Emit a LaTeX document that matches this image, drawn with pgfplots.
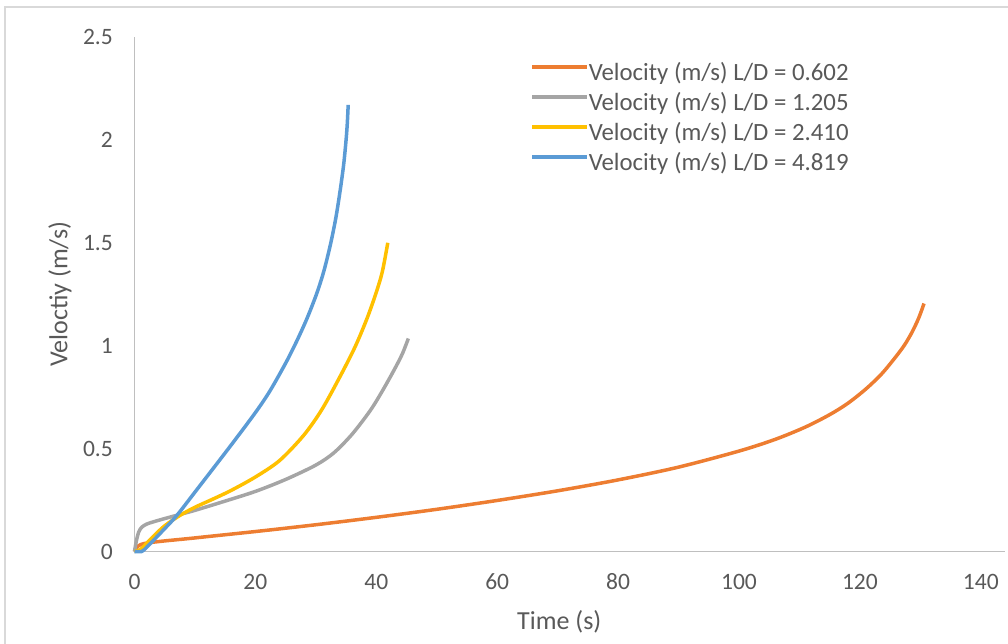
\documentclass[border=0pt]{standalone}
\usepackage{fontspec}
\setmainfont{Carlito}
\usepackage{pgfplots}
\pgfplotsset{compat=1.18}
\definecolor{cOrange}{HTML}{ED7D31}
\definecolor{cGray}{HTML}{A5A5A5}
\definecolor{cYellow}{HTML}{FFC000}
\definecolor{cBlue}{HTML}{5B9BD5}
\definecolor{txtgray}{HTML}{595959}
\definecolor{axgray}{HTML}{BFBFBF}
\definecolor{bordergray}{HTML}{D9D9D9}
\begin{document}
\begin{tikzpicture}
\path[use as bounding box] (0,0) rectangle (1008bp,644bp);
\draw[bordergray, line width=1.5bp] (5bp,0) -- (5bp,637bp) -- (1008bp,637bp);
\begin{axis}[
  at={(134.5bp,92.5bp)}, anchor=south west,
  scale only axis, width=870.5bp, height=514.5bp,
  xmin=0, xmax=144, ymin=0, ymax=2.5,
  axis lines*=left,
  axis line style={axgray, line width=1.5bp},
  xtick={0,20,...,140}, ytick={0,0.5,1,1.5,2,2.5},
  major tick length=0pt,
  /pgf/number format/assume math mode=true,
  tick label style={font=\fontsize{23.5bp}{28bp}\selectfont, text=txtgray},
  xticklabel style={anchor=center, inner sep=0pt, yshift=-30bp},
  yticklabel style={anchor=east, inner sep=0pt, xshift=-21.5bp},
  xlabel={Time (s)},
  ylabel={Veloctiy (m/s)},
  label style={font=\fontsize{26bp}{30bp}\selectfont, text=txtgray},
  xlabel style={at={(axis description cs:0.488,-0.137)}, anchor=center},
  ylabel style={at={(axis description cs:-0.0856,0.5)}, anchor=center, rotate=0},
  clip=false,
  legend style={draw=none, fill=none, at={(axis description cs:0.4544,0.9485)}, anchor=north west,
    font=\fontsize{24.8bp}{28bp}\selectfont, text=txtgray,
    inner sep=0pt, row sep=10bp,
    nodes={inner sep=0pt, text height=17bp, text depth=3bp},
    /tikz/every even column/.append style={column sep=5bp}},
  legend cell align=left,
  legend image code/.code={\draw[#1, line width=3.5bp] (0bp,6.5bp) -- (55bp,6.5bp);},
  every axis plot/.append style={line width=3.5bp, smooth, tension=0.5},
]
\addplot[cOrange] coordinates {(0,0) (1.5,0.038) (10,0.066) (20,0.097) (30,0.13) (40,0.166) (50,0.205) (60,0.248) (70,0.295) (80,0.348) (90,0.41) (100,0.488) (106,0.545) (111,0.605) (115,0.665) (118,0.72) (121,0.79) (123.5,0.86) (125.5,0.93) (127.3,1.0) (128.7,1.07) (129.8,1.14) (130.6,1.205)};
\addlegendentry{Velocity (m/s) L/D = 0.602}
\addplot[cGray] coordinates {(0,0) (0.3,0.05) (0.7,0.095) (1.2,0.118) (2,0.133) (3,0.143) (5,0.16) (7.5,0.18) (10,0.2) (15,0.245) (20,0.292) (25,0.35) (30,0.42) (33,0.48) (36,0.57) (39,0.685) (41,0.78) (43,0.885) (44.3,0.96) (45.3,1.035)};
\addlegendentry{Velocity (m/s) L/D = 1.205}
\addplot[cYellow] coordinates {(0,0) (1,0.01) (2,0.04) (3,0.07) (5,0.125) (7.5,0.175) (10,0.215) (13,0.255) (16,0.297) (20,0.362) (24,0.442) (28,0.565) (31,0.69) (34,0.85) (36.5,0.995) (38.5,1.135) (40,1.26) (41,1.36) (41.9,1.5)};
\addlegendentry{Velocity (m/s) L/D = 2.410}
\addplot[cBlue] coordinates {(0,0) (1.2,0) (2,0.02) (3,0.05) (4.8,0.105) (7,0.175) (10.3,0.3) (15.8,0.51) (20,0.675) (22.4,0.78) (25,0.915) (26.8,1.02) (28.5,1.13) (30.1,1.25) (31.3,1.36) (32.4,1.49) (33.3,1.62) (34,1.75) (34.6,1.88) (35,2.0) (35.2,2.08) (35.35,2.17)};
\addlegendentry{Velocity (m/s) L/D = 4.819}
\end{axis}
\end{tikzpicture}
\end{document}
